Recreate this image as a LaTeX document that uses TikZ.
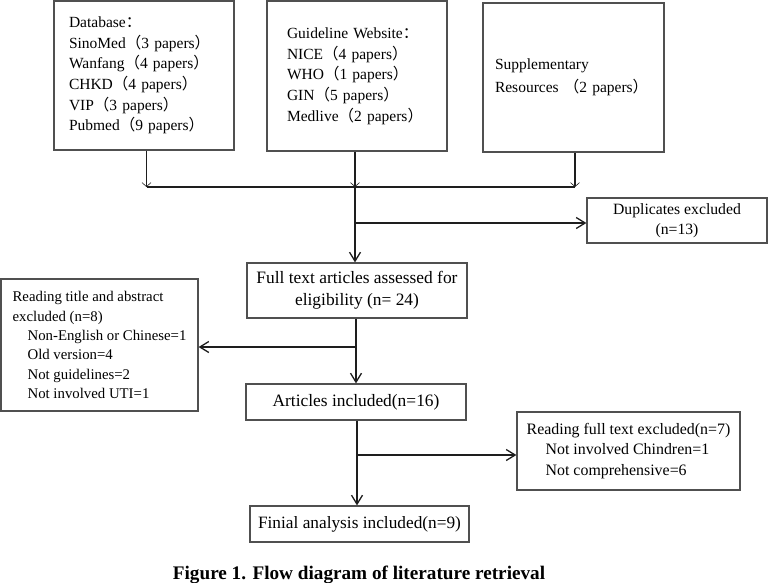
\documentclass[tikz,border=0pt]{standalone}
\usepackage{fontspec}
\setmainfont{Liberation Serif}
\newfontfamily\cjk{Noto Sans CJK SC}
\usetikzlibrary{arrows.meta}
\definecolor{boxgray}{HTML}{505050}
\definecolor{linegray}{HTML}{1E1E1E}
\newcommand{\fwlp}{{\cjk （}}
\newcommand{\fwrp}{{\cjk ）}}
\newcommand{\fwcolon}{{\cjk ：}}

\begin{document}
\begin{tikzpicture}[x=1pt,y=-1pt,
        box/.style={draw=boxgray, line width=1.2pt, rectangle, inner ysep=0pt},
        link/.style={draw=linegray, line width=1.3pt},
        mainarrow/.style={link, -{Straight Barb[length=9pt,width=11pt]}},
        smallarrow/.style={link, -{Straight Barb[length=4pt,width=9pt,line width=0.6pt]}}]
        \useasboundingbox (0,0) rectangle (768,582);
        % sources
        \node[box, minimum width=180, minimum height=149, inner xsep=15, text width=150, align=left,
              font=\fontsize{15.5}{20.7}\selectfont] (db) at (144,75.5)
              {Database\fwcolon\\SinoMed\fwlp 3 papers\fwrp\\Wanfang\fwlp 4 papers\fwrp\\CHKD\fwlp 4 papers\fwrp\\VIP\fwlp 3 papers\fwrp\\Pubmed\fwlp 9 papers\fwrp};
        \node[box, minimum width=180, minimum height=150, inner xsep=20, text width=140, align=left,
              font=\fontsize{15.5}{20.7}\selectfont] (gw) at (357,76)
              {Guideline Website\fwcolon\\NICE\fwlp 4 papers\fwrp\\WHO\fwlp 1 papers\fwrp\\GIN\fwlp 5 papers\fwrp\\Medlive\fwlp 2 papers\fwrp};
        \node[box, minimum width=181, minimum height=149, inner xsep=12, text width=157, align=left,
              font=\fontsize{15.5}{23}\selectfont] (sup) at (573.5,77.5)
              {Supplementary\\Resources\ \fwlp 2 papers\fwrp};
        % screening
        \node[box, minimum width=180, minimum height=45, align=center,
              font=\fontsize{15.7}{20}\selectfont] (dup) at (677,220.5)
              {Duplicates excluded\\(n=13)};
        \node[box, minimum width=220, minimum height=55, align=center,
              font=\fontsize{17.4}{22}\selectfont] (full) at (357,290.5)
              {Full text articles assessed for\\eligibility (n= 24)};
        \node[box, minimum width=197, minimum height=132, align=left,
              font=\fontsize{14.8}{19.3}\selectfont] (rta) at (99.5,345)
              {Reading title and abstract\\excluded (n=8)\\\hspace*{15pt}Non-English or Chinese=1\\\hspace*{15pt}Old version=4\\\hspace*{15pt}Not guidelines=2\\\hspace*{15pt}Not involved UTI=1};
        \node[box, minimum width=220, minimum height=36, align=center,
              font=\fontsize{17.4}{22}\selectfont] (art) at (356,402)
              {Articles included(n=16)};
        \node[box, minimum width=223, minimum height=78, align=left,
              font=\fontsize{15.9}{20.5}\selectfont] (rft) at (628.5,451)
              {Reading full text excluded(n=7)\\\hspace*{19pt}Not involved Chindren=1\\\hspace*{19pt}Not comprehensive=6};
        \node[box, minimum width=219, minimum height=36, align=center,
              font=\fontsize{17.3}{22}\selectfont] (fin) at (359.5,524)
              {Finial analysis included(n=9)};
        \node[anchor=base, font=\bfseries\fontsize{19.2}{22}\selectfont] (cap) at (359,579)
              {Figure 1. Flow diagram of literature retrieval};
        % connectors
        \coordinate (m) at (355,187);
        \coordinate (b1) at (355,223);
        \coordinate (b2) at (356,347);
        \coordinate (b3) at (357,455);
        \draw[smallarrow] ([xshift=2.5]db.south) -- ([xshift=2.5]db.south |- m);
        \draw[smallarrow] ([xshift=-2]gw.south) -- ([xshift=-2]gw.south |- m);
        \draw[smallarrow] ([xshift=1.5]sup.south) -- ([xshift=1.5]sup.south |- m);
        \draw[link] ([xshift=2.5]db.south |- m) -- ([xshift=1.5]sup.south |- m);
        \draw[mainarrow] (m) -- (m |- full.north);
        \draw[mainarrow] (b1) -- (b1 -| dup.west);
        \draw[link] (full.south -| b2) -- (b2);
        \draw[mainarrow] (b2) -- (b2 -| rta.east);
        \draw[mainarrow] (b2) -- (b2 |- art.north);
        \draw[link] (art.south -| b3) -- (b3);
        \draw[mainarrow] (b3) -- (b3 -| rft.west);
        \draw[mainarrow] (b3) -- (b3 |- fin.north);
\end{tikzpicture}
\end{document}
